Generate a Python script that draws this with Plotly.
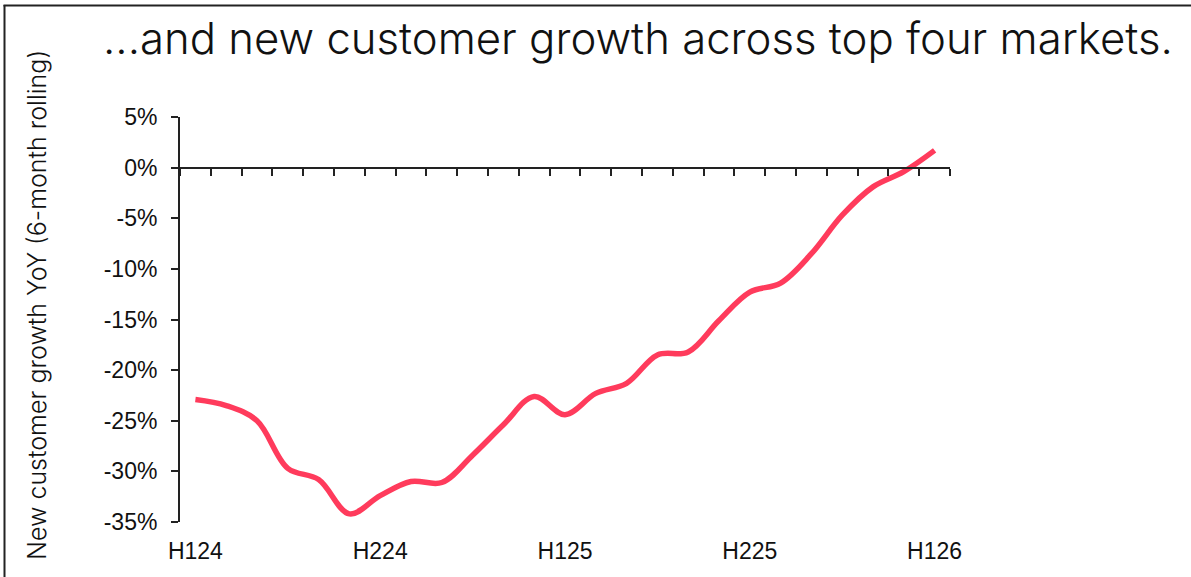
import plotly.graph_objects as go

# Monthly points, Jan 2024 .. Jan 2026
months = ["Jan-24", "Feb-24", "Mar-24", "Apr-24", "May-24", "Jun-24", "Jul-24", "Aug-24",
          "Sep-24", "Oct-24", "Nov-24", "Dec-24", "Jan-25", "Feb-25", "Mar-25", "Apr-25",
          "May-25", "Jun-25", "Jul-25", "Aug-25", "Sep-25", "Oct-25", "Nov-25", "Dec-25",
          "Jan-26"]
growth_pct = [-22.9, -23.5, -25.0, -29.7, -30.8, -34.2, -32.4, -31.0, -31.1, -28.4,
              -25.4, -22.6, -24.4, -22.3, -21.3, -18.5, -18.2, -15.1, -12.3, -11.4,
              -8.5, -4.7, -1.9, -0.4, 1.7]
half_labels = ["H124", "H224", "H125", "H225", "H126"]
half_positions = [0, 6, 12, 18, 24]
y_ticks = [5, 0, -5, -10, -15, -20, -25, -30, -35]

W, H = 1191, 577
ML, MR, MT, MB = 180, 241, 117, 55
PW, PH = W - ML - MR, H - MT - MB

def px_x(p):
    return (p - ML) / PW

def px_y(p):
    return (H - MB - p) / PH

idx = list(range(len(months)))
n = len(months)

fig = go.Figure()
fig.add_trace(go.Scatter(
    x=idx, y=growth_pct, mode="lines",
    line=dict(color="#FF3B5C", width=5.5, shape="spline", smoothing=1.0),
    customdata=months, hovertemplate="%{customdata}: %{y:.1f}%<extra></extra>",
    showlegend=False,
))
# carrier trace for the category-boundary axis drawn along 0%
fig.add_trace(go.Scatter(
    x=idx, y=growth_pct, xaxis="x2", mode="lines",
    line=dict(width=0), opacity=0, hoverinfo="skip", showlegend=False,
))

tick_font = dict(family="Liberation Sans, Arial, sans-serif", size=23, color="#111111")

fig.update_layout(
    width=W, height=H,
    margin=dict(l=ML, r=MR, t=MT, b=MB),
    paper_bgcolor="white", plot_bgcolor="white",
    xaxis=dict(
        range=[-0.5, n - 0.5], tickmode="array",
        tickvals=half_positions, ticktext=half_labels,
        showline=False, showgrid=False, zeroline=False, ticks="",
        tickfont=tick_font, ticklabelstandoff=13,
    ),
    xaxis2=dict(
        range=[-0.5, n - 0.5], overlaying="x", anchor="free",
        position=(0 - y_ticks[-1]) / (y_ticks[0] - y_ticks[-1]),
        tickmode="array", tickvals=[i - 0.5 for i in range(n + 1)],
        showticklabels=False, showline=True, linecolor="#222222", linewidth=2,
        ticks="outside", ticklen=7, tickwidth=2, tickcolor="#222222",
        showgrid=False, zeroline=False,
    ),
    yaxis=dict(
        range=[y_ticks[-1], y_ticks[0]], tickmode="array", tickvals=y_ticks,
        ticktext=[f"{v}%" for v in y_ticks],
        showline=True, linecolor="#222222", linewidth=2,
        ticks="outside", ticklen=7, tickwidth=2, tickcolor="#222222",
        showgrid=False, zeroline=False, tickfont=tick_font, ticklabelstandoff=9,
    ),
    shapes=[
        dict(type="line", xref="paper", yref="paper", x0=px_x(4.5), x1=px_x(4.5),
             y0=px_y(5), y1=px_y(H), line=dict(color="#222222", width=2)),
        dict(type="line", xref="paper", yref="paper", x0=px_x(3.5), x1=px_x(W),
             y0=px_y(5.5), y1=px_y(5.5), line=dict(color="#222222", width=2)),
    ],
    annotations=[
        dict(text="...and new customer growth across top four markets.",
             xref="paper", yref="paper", x=px_x(101), y=px_y(39),
             xanchor="left", yanchor="middle", showarrow=False,
             font=dict(family="Inter, sans-serif", size=43.7, color="#111111", weight=350)),
        dict(text="New customer growth YoY (6-month rolling)",
             xref="paper", yref="paper", x=px_x(37), y=px_y(305),
             xanchor="center", yanchor="middle", showarrow=False, textangle=-90,
             font=dict(family="Inter, sans-serif", size=25, color="#111111", weight=300)),
    ],
)

fig.write_html("out.html")
